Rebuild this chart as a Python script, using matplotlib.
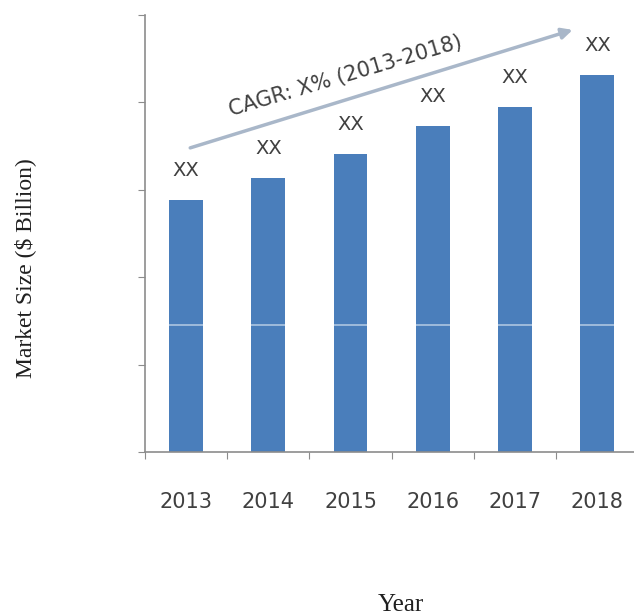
import matplotlib.pyplot as plt

# Marktgroesse je Jahr (Platzhalterwerte, Labels zeigen "XX")
years = ['2013', '2014', '2015', '2016', '2017', '2018']
values = [2.88, 3.13, 3.41, 3.73, 3.95, 4.31]
value_labels = ['XX', 'XX', 'XX', 'XX', 'XX', 'XX']
cagr_text = 'CAGR: X% (2013-2018)'

bar_color = '#4a7ebb'
text_color = '#404040'
axis_color = '#8c8c8c'

fig = plt.figure(figsize=(6.34, 6.16), dpi=100)
ax = fig.add_axes([0.2287, 0.2662, 0.7744, 0.7094])

x = range(len(years))
ax.bar(x, values, width=0.41, color=bar_color, zorder=2)

# helle Linie quer durch die Balken (unter der Achsenlinie)
ax.axhline(1.45, color='white', alpha=0.55, lw=1.2, zorder=2.1)

# Werte ueber den Balken
for i, v in enumerate(values):
    ax.text(i, v + 0.34, value_labels[i], ha='center', va='center',
            fontsize=14, color=text_color)

# CAGR-Pfeil
ax.annotate('', xy=(4.70, 4.83), xytext=(0.05, 3.48),
            arrowprops=dict(arrowstyle='-|>', color='#a9b7c9', lw=2.5,
                            mutation_scale=16, shrinkA=0, shrinkB=0))
ax.text(1.94, 4.30, cagr_text, rotation=16.5, ha='center', va='center',
        fontsize=15, color=text_color, rotation_mode='anchor')

ax.set_xlim(-0.5, 5.47)
ax.set_ylim(0, 5)
ax.set_yticks(range(6))
ax.set_yticklabels([])
ax.set_xticks([i - 0.5 for i in range(6)])
ax.set_xticklabels([])
ax.set_xticks(list(x), minor=True)
ax.set_xticklabels(years, minor=True, fontsize=15, color=text_color)
ax.tick_params(axis='x', which='minor', length=0, pad=29)
ax.tick_params(axis='x', which='major', length=5, color=axis_color, direction='out')
ax.tick_params(axis='y', length=5, color=axis_color, direction='out')

for s in ['top', 'right']:
    ax.spines[s].set_visible(False)
for s in ['left', 'bottom']:
    ax.spines[s].set_color(axis_color)
    ax.spines[s].set_linewidth(1.2)

fig.text(0.040, 0.565, 'Market Size (\\$ Billion)', rotation=90, ha='center',
         va='center', fontsize=17, family='Liberation Serif', color='#202020')
fig.text(0.632, 0.018, 'Year', ha='center', va='center', fontsize=18,
         family='Liberation Serif', color='#202020')

fig.savefig('out.png', dpi=100)
